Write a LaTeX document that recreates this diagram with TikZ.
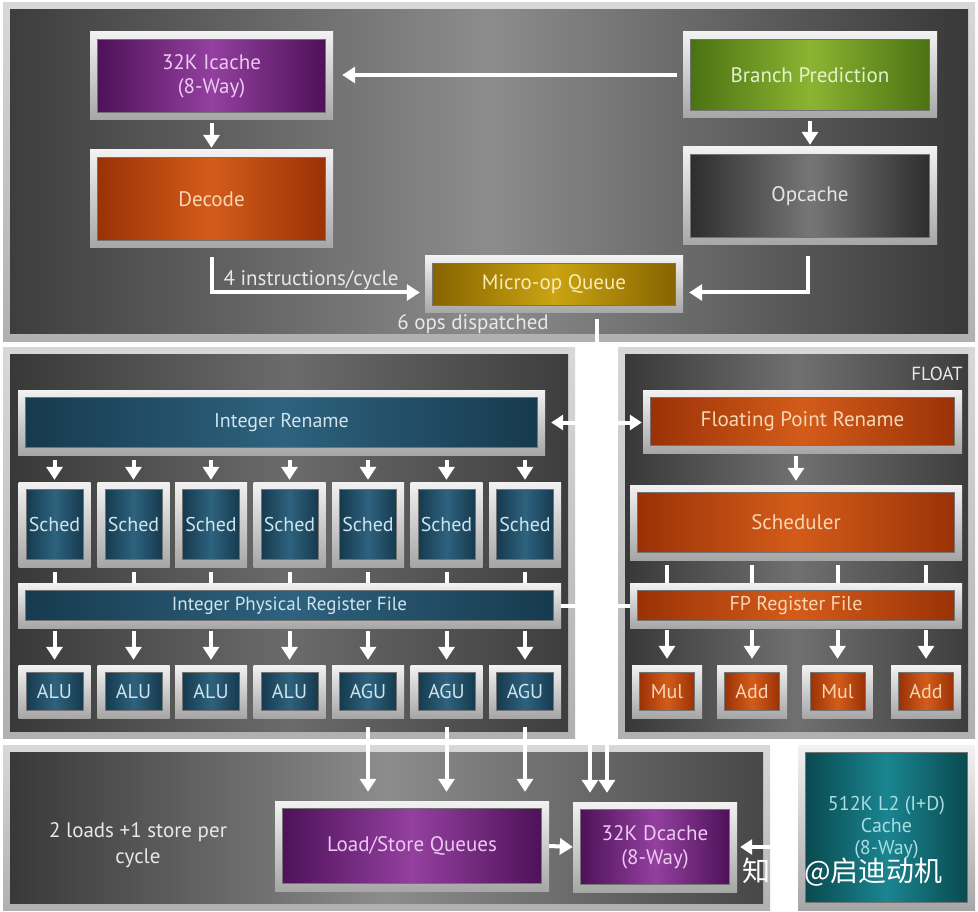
\documentclass[tikz,border=0pt]{standalone}
\usepackage{fontspec}
\setmainfont{PT Sans}
\newfontfamily\cjk{Noto Sans CJK SC}
\usetikzlibrary{arrows.meta,calc}
\definecolor{frmA}{HTML}{F2F2F2}
\definecolor{frmB}{HTML}{A6A6A6}
\definecolor{pnA}{HTML}{D8D8D8}
\definecolor{pnB}{HTML}{B0B0B0}
\definecolor{purA}{HTML}{4E1258}
\definecolor{purB}{HTML}{93409F}
\definecolor{purT}{HTML}{EDC8F2}
\definecolor{orA}{HTML}{9A3206}
\definecolor{orB}{HTML}{D45C1A}
\definecolor{orT}{HTML}{F8D6B4}
\definecolor{grA}{HTML}{4A7212}
\definecolor{grB}{HTML}{8CB432}
\definecolor{grT}{HTML}{E2F2CC}
\definecolor{dgA}{HTML}{2E2E2E}
\definecolor{dgB}{HTML}{767676}
\definecolor{dgT}{HTML}{E6E6E6}
\definecolor{goA}{HTML}{866400}
\definecolor{goB}{HTML}{CBA412}
\definecolor{goT}{HTML}{FAEBB0}
\definecolor{tlA}{HTML}{163A4E}
\definecolor{tlB}{HTML}{2E627E}
\definecolor{tlT}{HTML}{CFE4EE}
\definecolor{l2A}{HTML}{0A4A50}
\definecolor{l2B}{HTML}{1A8590}
\definecolor{l2T}{HTML}{A8DDE2}
\definecolor{lblT}{HTML}{E8E8E8}
\newcommand\blk[7]{%
  \node[frame, minimum width=#4pt, minimum height=#5pt] (#1) at (#2,#3) {};
  \node[#6, minimum width=#4pt-15pt, minimum height=#5pt-15pt] (#1-in) at (#2,#3) {#7};
}
\newcommand\pnl[5]{%
  \path[top color=pnA, bottom color=pnB] (#1,#2) rectangle (#3,#4);
  \path[#5] (#1+7,#2+7) rectangle (#3-7,#4-7);
}
\begin{document}
\begin{tikzpicture}[x=1pt,y=-1pt,
  frame/.style={inner sep=0, top color=frmA, bottom color=frmB, draw=none},
  inner/.style={inner sep=0, align=center, draw=black!55, line width=0.6pt, font=\fontsize{21}{24}\selectfont},
  f17/.style={font=\fontsize{19}{22}\selectfont},
  f18/.style={font=\fontsize{20}{22}\selectfont},
  purp/.style={inner, left color=purA, right color=purA, middle color=purB, text=purT},
  orng/.style={inner, left color=orA, right color=orA, middle color=orB, text=orT},
  fpo/.style={inner, left color=orA, right color=orA, middle color=orB, text=orT},
  grn/.style={inner, left color=grA, right color=grA, middle color=grB, text=grT},
  dgry/.style={inner, left color=dgA, right color=dgA, middle color=dgB, text=dgT},
  gold/.style={inner, left color=goA, right color=goA, middle color=goB, text=goT},
  teal/.style={inner, left color=tlA, right color=tlA, middle color=tlB, text=tlT},
  l2c/.style={inner, left color=l2A, right color=l2A, middle color=l2B, text=l2T},
  lbl/.style={inner sep=0, text=lblT, font=\fontsize{21}{26}\selectfont},
  arr/.style={draw=white, line width=4pt, -{Triangle[width=16pt,length=13pt]}},
  wline/.style={draw=white, line width=4pt},
  darr/.style={draw=white, line width=4pt, {Triangle[width=15pt,length=12pt]}-{Triangle[width=15pt,length=12pt]}},
  pTop/.style={left color=black!76, right color=black!78, middle color=black!45},
  pInt/.style={left color=black!78, right color=black!76, middle color=black!58},
  pFlt/.style={left color=black!78, right color=black!76, middle color=black!56},
  pBot/.style={left color=black!78, right color=black!72, middle color=black!45}]
\useasboundingbox (0,0) rectangle (978,912);
\fill[white] (0,0) rectangle (978,912);
% panels
\pnl{3}{3}{975}{341}{pTop}
\pnl{3}{347}{575}{738}{pInt}
\pnl{618}{347}{975}{738}{pFlt}
\pnl{3}{745}{770}{910}{pBot}
% front end
\blk{ic}{211.5}{76}{243}{88}{purp}{32K Icache\\(8-Way)}
\blk{bp}{810}{75}{254}{86}{grn}{Branch Prediction}
\blk{dec}{211.5}{199}{243}{98}{orng}{Decode}
\blk{opc}{810}{196}{254}{98}{dgry}{Opcache}
\blk{muq}{554}{284.5}{258}{57}{gold}{Micro-op Queue}
\node[lbl] (t4) at (311,280) {4 instructions/cycle};
\node[lbl] (t6) at (473,324) {6 ops dispatched};
\draw[arr] ($(bp.west)+(-6,0)$) -- ($(ic.east |- bp.west)+(9,0)$);
\draw[arr] ($(ic.south)+(0,3)$) -- ($(dec.north)+(0,-2)$);
\draw[arr] ($(bp.south)+(0,3)$) -- ($(opc.north)+(0,-2)$);
\draw[arr] ($(dec.south)+(0,9)$) |- ($(muq.west)+(-5,8)$);
\draw[arr] ($(opc.south)+(-2,11)$) |- ($(muq.east)+(6,8)$);
% integer
\blk{irn}{281.5}{422.5}{527}{65}{teal, f18}{Integer Rename}
\foreach \i/\x in {1/54.5,2/133.5,3/211,4/289.5,5/368,6/446.5,7/525}{
  \blk{s\i}{\x}{524.5}{72}{85}{teal, f18}{Sched}
}
\blk{iprf}{289.5}{605.5}{543}{45}{teal, f17}{Integer Physical Register File}
\foreach \i/\x/\t in {1/54.5/ALU,2/133.5/ALU,3/211/ALU,4/289.5/ALU,5/368/AGU,6/446.5/AGU,7/525/AGU}{
  \blk{a\i}{\x}{691.5}{72}{53}{teal, f18}{\t}
}
\foreach \i in {1,...,7}{
  \draw[arr] ($(s\i.north |- irn.south)+(0,5)$) -- ($(s\i.north)+(0,-2)$);
  \draw[wline] ($(s\i.south)+(0,5)$) -- (s\i.south |- iprf.north);
  \draw[arr] ($(a\i.north |- iprf.south)+(0,3)$) -- ($(a\i.north)+(0,-5)$);
}
% float
\node[lbl, font=\fontsize{19}{20}\selectfont] (tf) at (937,374) {FLOAT};
\blk{frn}{802.5}{421.5}{319}{63}{fpo}{Floating Point Rename}
\blk{fsch}{796}{522.5}{332}{75}{fpo}{Scheduler}
\blk{fprf}{796}{605.5}{332}{45}{fpo, f18}{FP Register File}
\foreach \i/\x/\t in {1/667/Mul,2/752/Add,3/837.5/Mul,4/926/Add}{
  \blk{m\i}{\x}{691.5}{70}{53}{fpo, f18}{\t}
}
\draw[arr] ($(frn.south -| fsch.north)+(0,3)$) -- ($(fsch.north)+(0,-4)$);
\foreach \i in {1,...,4}{
  \draw[wline] ($(m\i.north |- fsch.south)+(0,5)$) -- (m\i.north |- fprf.north);
  \draw[arr] ($(m\i.north |- fprf.south)+(0,2)$) -- ($(m\i.north)+(0,-6)$);
}
% links between blocks
\draw[wline] ($(muq.south)+(43,6)$) -- ($(muq.south |- irn.east)+(43,0)$);
\draw[darr] ($(irn.east)+(6,0)$) -- ($(frn.west |- irn.east)+(-1,0)$);
\draw[wline] (iprf.east) -- (iprf.east -| fprf.west);
% load/store
\blk{lsq}{412}{846}{274}{90}{purp}{Load/Store Queues}
\blk{dc}{655}{847}{164}{90}{purp}{32K Dcache\\(8-Way)}
\blk{l2}{886.5}{827.5}{177}{165}{l2c, f18}{512K L2 (I+D)\\Cache\\(8-Way)}
\node[lbl, align=center] (t2) at (138,845) {2 loads +1 store per\\cycle};
\foreach \i in {5,6,7}{
  \draw[arr] ($(a\i.south)+(0,9)$) -- ($(a\i.south |- lsq.north)+(0,-9)$);
}
\coordinate (dq1) at (590,738);
\coordinate (dq2) at (607,738);
\draw[arr] (dq1) -- ($(dq1 |- dc.north)+(0,-9)$);
\draw[arr] (dq2) -- ($(dq2 |- dc.north)+(0,-9)$);
\draw[arr] (lsq.east) -- (dc.west);
\draw[darr] ($(dc.east)+(3,0)$) -- ($(l2.west |- dc.east)+(-1,0)$);
\node[inner sep=0, anchor=west, text=white, font=\cjk\fontsize{28}{30}\selectfont] (wm) at (742,872) {知乎 @启迪动机};
\end{tikzpicture}
\end{document}
